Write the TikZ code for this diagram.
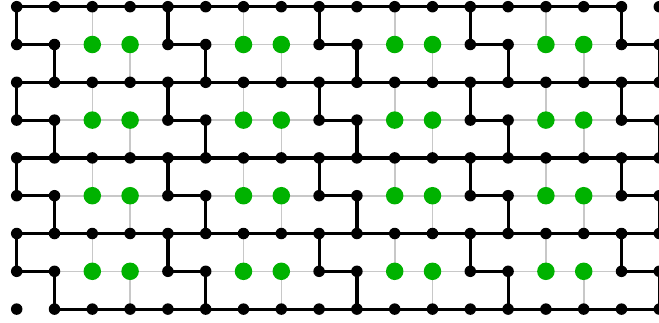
\documentclass[tikz,border=0pt]{standalone}
\definecolor{dotgreen}{RGB}{0,178,0}
\definecolor{lightgrid}{RGB}{200,200,200}
\pgfdeclarelayer{background}
\pgfsetlayers{background,main}
\begin{document}
\begin{tikzpicture}[x=1pt,y=-1pt,
  bdot/.style={circle,fill=black,inner sep=0pt,minimum size=11.5pt},
  gdot/.style={circle,fill=dotgreen,inner sep=0pt,minimum size=17.5pt},
  blk/.style={line width=3.2pt,black},
  gry/.style={line width=1.6pt,lightgrid}]
\useasboundingbox (0,0) rectangle (659,322);
% nodes
\foreach \c in {0,...,17}{
  \foreach \r in {0,...,8}{
    \pgfmathtruncatemacro\g{(mod(\r,2)==1 && (mod(\c,4)==2 || mod(\c,4)==3)) ? 1 : 0}
    \ifnum\g=1
      \node[gdot] (n-\c-\r) at ({16.7+37.8*\c},{6.7+37.8*\r}) {};
    \else
      \node[bdot] (n-\c-\r) at ({16.7+37.8*\c},{6.7+37.8*\r}) {};
    \fi
  }
}
\begin{pgfonlayer}{background}
% horizontal edges
\foreach \r in {0,...,8}{
  \foreach \c in {0,...,16}{
    \pgfmathtruncatemacro\cc{\c+1}
    \pgfmathtruncatemacro\t{(mod(\r,2)==0) ? (((\r==0 && \c==16) || (\r==8 && \c==0)) ? 0 : 1) : ((mod(\c,4)==0) ? 1 : 2)}
    \ifnum\t=1 \draw[blk] (n-\c-\r.center) -- (n-\cc-\r.center);\fi
    \ifnum\t=2 \draw[gry] (n-\c-\r.center) -- (n-\cc-\r.center);\fi
  }
}
% vertical edges
\foreach \r in {0,...,7}{
  \foreach \c in {0,...,17}{
    \pgfmathtruncatemacro\rr{\r+1}
    \pgfmathtruncatemacro\t{(mod(\c,4)==mod(\r,2)) ? 1 : ((mod(\c,4)==mod(\r,2)+2) ? 2 : 0)}
    \ifnum\t=1 \draw[blk] (n-\c-\r.center) -- (n-\c-\rr.center);\fi
    \ifnum\t=2 \draw[gry] (n-\c-\r.center) -- (n-\c-\rr.center);\fi
  }
}
\end{pgfonlayer}
\end{tikzpicture}
\end{document}
